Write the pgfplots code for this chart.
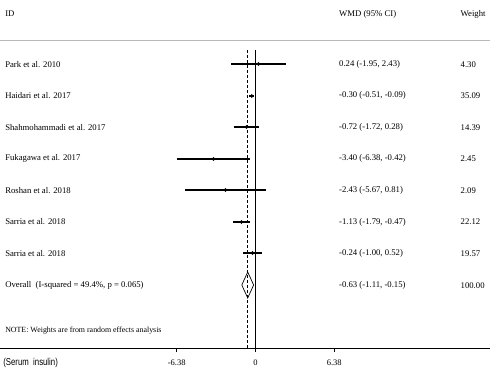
\documentclass[border=0pt]{standalone}
\usepackage{fontspec}
\setmainfont{Liberation Serif}
\newfontfamily\narrowsans[FakeStretch=0.78]{Liberation Sans}
\usepackage{pgfplots}
\pgfplotsset{compat=1.18}
\begin{document}
\begin{tikzpicture}
\newcommand{\lab}{\fontsize{8.7bp}{10bp}\selectfont}
\begin{axis}[
  width=490bp, height=348bp, scale only axis,
  xmin=-20.69, xmax=18.99, ymin=-348, ymax=0,
  axis x line*=bottom, axis y line=none,
  x axis line style={-, line width=0.8bp},
  xtick={-6.38,0,6.38}, xticklabels={-6.38,0,6.38},
  tick align=outside, major tick length=4bp,
  tick style={black, line width=0.6bp},
  xticklabel style={font=\fontsize{8.5bp}{10bp}\selectfont, yshift=-4bp},
  /pgf/number format/assume math mode=true,
  clip=false,
]
% reference lines
\addplot[black, line width=0.8bp] coordinates {(0,-50) (0,-348)};
\addplot[black, line width=1.1bp, dash pattern=on 3bp off 2bp] coordinates {(-0.63,-50) (-0.63,-348)};
% confidence intervals
\pgfplotsset{ci/.style={black, line width=1.8bp, no marks}}
\addplot[ci] coordinates {(-1.95,-64) (2.43,-64)};
\addplot[ci] coordinates {(-0.51,-96) (-0.09,-96)};
\addplot[ci] coordinates {(-1.72,-127) (0.28,-127)};
\addplot[ci] coordinates {(-6.38,-159) (-0.42,-159)};
\addplot[ci] coordinates {(-5.67,-190) (0.81,-190)};
\addplot[ci] coordinates {(-1.79,-222) (-0.47,-222)};
\addplot[ci] coordinates {(-1.00,-253) (0.52,-253)};
% point estimates
\addplot[black, only marks, mark=*, mark size=1.6bp]
  coordinates {
  (0.24,-64) (-0.30,-96) (-0.72,-127) (-3.40,-159)
  (-2.43,-190) (-1.13,-222) (-0.24,-253)
  };
% overall diamond
\addplot[black, line width=0.7bp] coordinates {(-1.11,-285) (-0.63,-272) (-0.15,-285) (-0.63,-298) (-1.11,-285)};
% header rule
\draw[gray!55, line width=0.8bp] (axis cs:-20.69,-40.7) -- (axis cs:18.99,-40.7);
% texts
\begin{scope}[every node/.style={anchor=west, inner sep=0pt, font=\lab}]
\node at (axis cs:-20.28,-14) {ID};
\node at (axis cs:6.76,-14) {WMD (95\% CI)};
\node at (axis cs:16.60,-14) {Weight};
\node at (axis cs:-20.28,-64.2) {Park et al. 2010};
\node at (axis cs:-20.28,-95.75) {Haidari et al. 2017};
\node at (axis cs:-20.28,-127.3) {Shahmohammadi et al. 2017};
\node at (axis cs:-20.28,-158.85) {Fukagawa et al. 2017};
\node at (axis cs:-20.28,-190.4) {Roshan et al. 2018};
\node at (axis cs:-20.28,-221.95) {Sarria et al. 2018};
\node at (axis cs:-20.28,-253.5) {Sarria et al. 2018};
\node at (axis cs:-20.28,-285.5) {Overall\ \ (I-squared = 49.4\%, p = 0.065)};
\node at (axis cs:6.76,-64.2) {0.24 (-1.95, 2.43)};
\node at (axis cs:6.76,-95.75) {-0.30 (-0.51, -0.09)};
\node at (axis cs:6.76,-127.3) {-0.72 (-1.72, 0.28)};
\node at (axis cs:6.76,-158.85) {-3.40 (-6.38, -0.42)};
\node at (axis cs:6.76,-190.4) {-2.43 (-5.67, 0.81)};
\node at (axis cs:6.76,-221.95) {-1.13 (-1.79, -0.47)};
\node at (axis cs:6.76,-253.5) {-0.24 (-1.00, 0.52)};
\node at (axis cs:6.76,-285.5) {-0.63 (-1.11, -0.15)};
\node at (axis cs:16.60,-64.2) {4.30};
\node at (axis cs:16.60,-95.75) {35.09};
\node at (axis cs:16.60,-127.3) {14.39};
\node at (axis cs:16.60,-158.85) {2.45};
\node at (axis cs:16.60,-190.4) {2.09};
\node at (axis cs:16.60,-221.95) {22.12};
\node at (axis cs:16.60,-253.5) {19.57};
\node at (axis cs:16.60,-285.5) {100.00};
\node[font=\fontsize{7.9bp}{9bp}\selectfont] at (axis cs:-20.28,-331) {NOTE: Weights are from random effects analysis};
\node[font=\narrowsans\fontsize{10bp}{11bp}\selectfont] at (axis cs:-20.44,-363) {(Serum\ \ insulin)};
\end{scope}
\coordinate (BL) at (axis cs:-20.69,-378);
\coordinate (TR) at (axis cs:18.99,0);
\end{axis}
\pgfresetboundingbox
\path (BL) rectangle (TR);
\end{tikzpicture}
\end{document}
